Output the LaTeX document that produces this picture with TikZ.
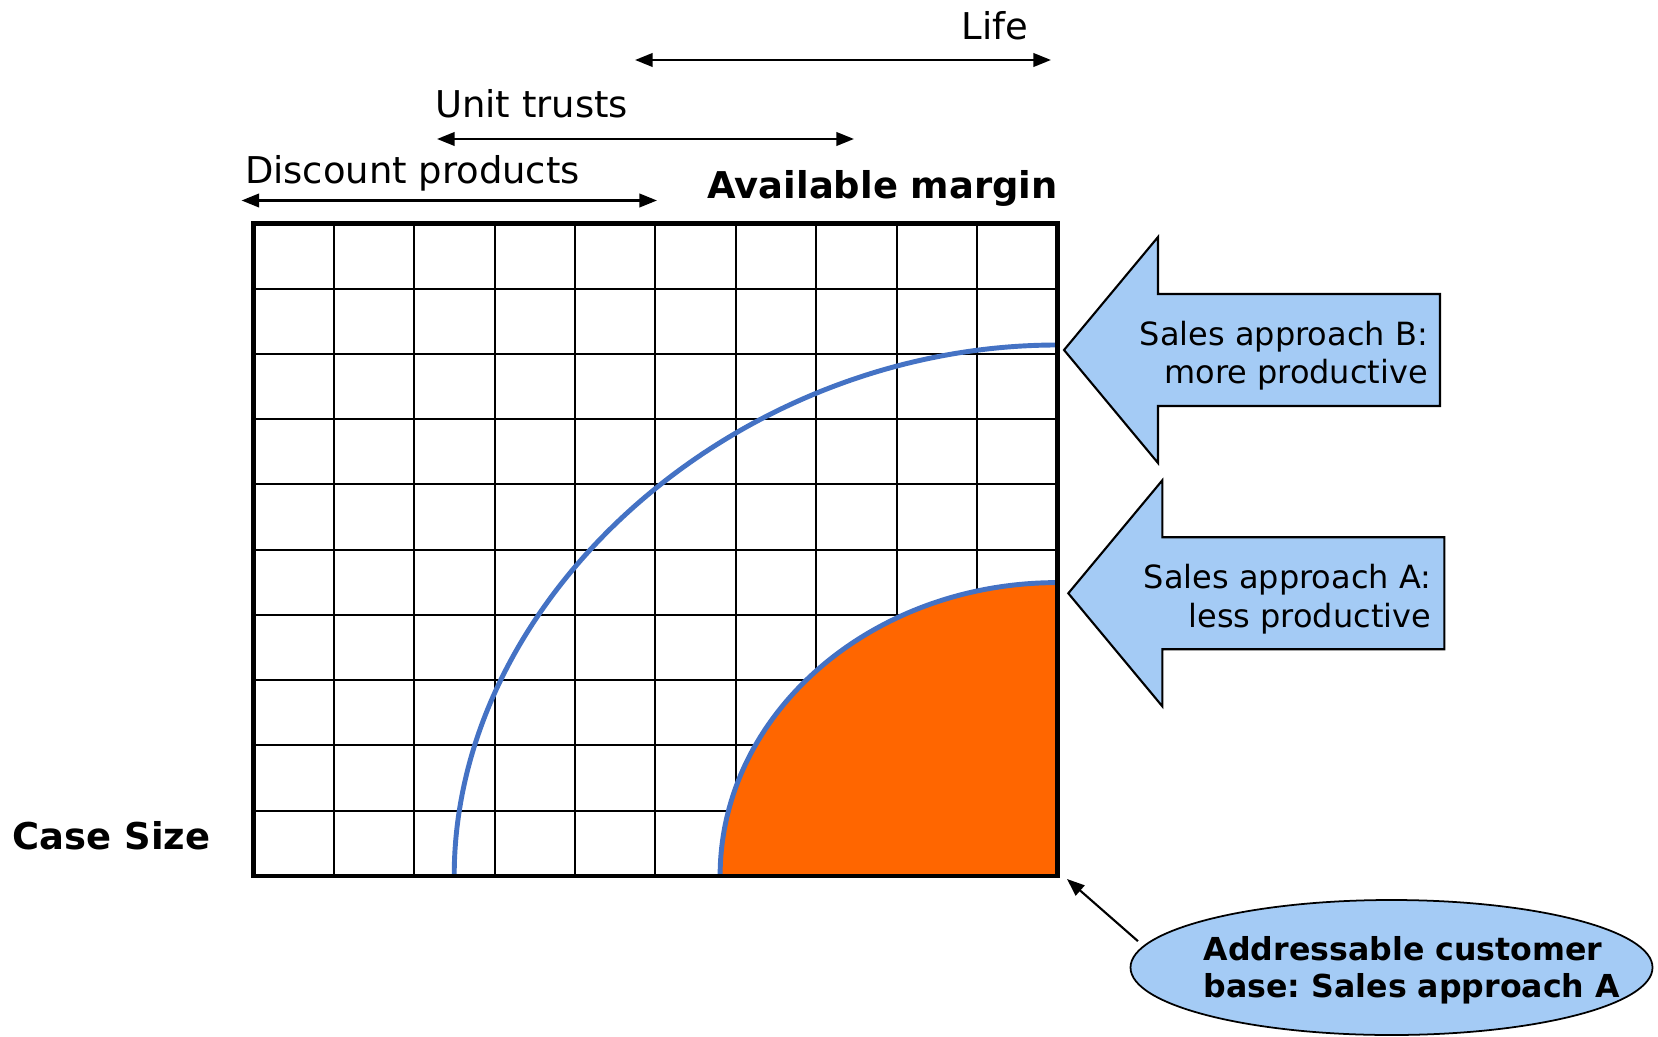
\documentclass[tikz,border=0pt]{standalone}
\usepackage{fontspec}
\setmainfont{DejaVu Sans}
\usetikzlibrary{arrows.meta,shapes.geometric}
\definecolor{reachblue}{RGB}{68,114,196}
\definecolor{baseorange}{RGB}{255,102,0}
\definecolor{paleblue}{RGB}{164,203,245}
\newcommand{\labelfont}{\fontsize{10.5}{12.6}\selectfont}
\newcommand{\pushfont}{\fontsize{9.1}{10.9}\selectfont}
\newcommand{\basefont}{\fontsize{9}{10.4}\selectfont}
% block arrow pointing left: tip x, tip y, name of the tip
\newcommand{\pusharrow}[3]{\draw[pushshape] (#1,#2) coordinate (#3) -- ++(0.94,1.13) -- ++(0,-0.57) -- ++(2.82,0) -- ++(0,-1.12) -- ++(-2.82,0) -- ++(0,-0.57) -- cycle;}
\frenchspacing

\begin{document}
\begin{tikzpicture}[
  gridline/.style={line width=0.55pt},
  frame/.style={draw,line width=1.4pt,inner sep=0pt,outer sep=0pt},
  span/.style={line width=0.75pt,{Triangle[length=5pt,width=3.8pt]}-{Triangle[length=5pt,width=3.8pt]}},
  reach/.style={reachblue,line width=1.4pt},
  pushshape/.style={draw,fill=paleblue,line width=0.6pt,line join=miter},
  pushtext/.style={anchor=east,align=right,inner sep=0pt,font=\pushfont},
  pointer/.style={line width=0.6pt,-{Triangle[length=5pt,width=3.8pt]}}]
	\useasboundingbox (0,0) rectangle (16.58,10.36);

	% product ranges along the top
	\coordinate (lifeL) at (6.35,9.76); \coordinate (lifeR) at (10.51,9.76);
	\coordinate (unitL) at (4.37,8.97); \coordinate (unitR) at (8.54,8.97);
	\coordinate (discL) at (2.415,8.355); \coordinate (discR) at (6.57,8.355);
	\draw[span] (lifeL) -- (lifeR);
	\draw[span] (unitL) -- (unitR);
	\draw[span] (discL) -- (discR);
	\node[anchor=base east,inner sep=0pt,font=\labelfont] (life) at (10.29,9.969) {Life};
	\node[anchor=base west,inner sep=0pt,font=\labelfont] (unit) at (4.345,9.186) {Unit trusts};
	\node[anchor=base west,inner sep=0pt,font=\labelfont] (disc) at (2.443,8.52) {Discount products};
	\node[anchor=base east,inner sep=0pt,font=\labelfont\bfseries] (margin) at (10.584,8.37) {Available margin};
	\node[anchor=base west,inner sep=0pt,font=\labelfont\bfseries] (casesize) at (0.12,1.861) {Case Size};

	% 10 x 10 field
	\foreach \c in {1,...,9} {
		\draw[gridline] (2.535+\c*0.8039,1.6) -- (2.535+\c*0.8039,8.127);
		\draw[gridline] (2.535,1.6+\c*0.6527) -- (10.574,1.6+\c*0.6527);
	}
	\fill[baseorange] (7.201,1.6) arc[start angle=180,end angle=90,x radius=3.373,y radius=2.934] -- (10.574,1.6) -- cycle;
	\draw[reach] (7.201,1.6) arc[start angle=180,end angle=90,x radius=3.373,y radius=2.934];
	\draw[reach] (4.542,1.6) .. controls +(0,2.81) and +(-3.20,0) .. (10.574,6.91);
	\node[frame,anchor=south west,minimum width=8.039cm,minimum height=6.527cm] (chart) at (2.535,1.6) {};

	% sales approaches
	\pusharrow{10.64}{6.86}{tipB}
	\pusharrow{10.683}{4.427}{tipA}
	\node[pushtext] (approachB) at ([shift={(3.645,-0.058)}]tipB) {Sales approach B:\\more productive};
	\node[pushtext] (approachA) at ([shift={(3.635,-0.058)}]tipA) {Sales approach A:\\less productive};

	% addressable base
	\node[ellipse,draw,fill=paleblue,line width=0.5pt,minimum width=5.22cm,minimum height=1.35cm] (custbase) at (13.915,0.685) {};
	\node[anchor=west,align=left,inner sep=0pt,font=\basefont\bfseries] (custtext) at (12.03,0.66) {Addressable customer\\base: Sales approach A};
	\coordinate (corner) at ([shift={(0.096,-0.03)}]chart.south east);
	\draw[pointer,shorten <=2pt] (custbase.175.6) -- (corner);
\end{tikzpicture}
\end{document}
